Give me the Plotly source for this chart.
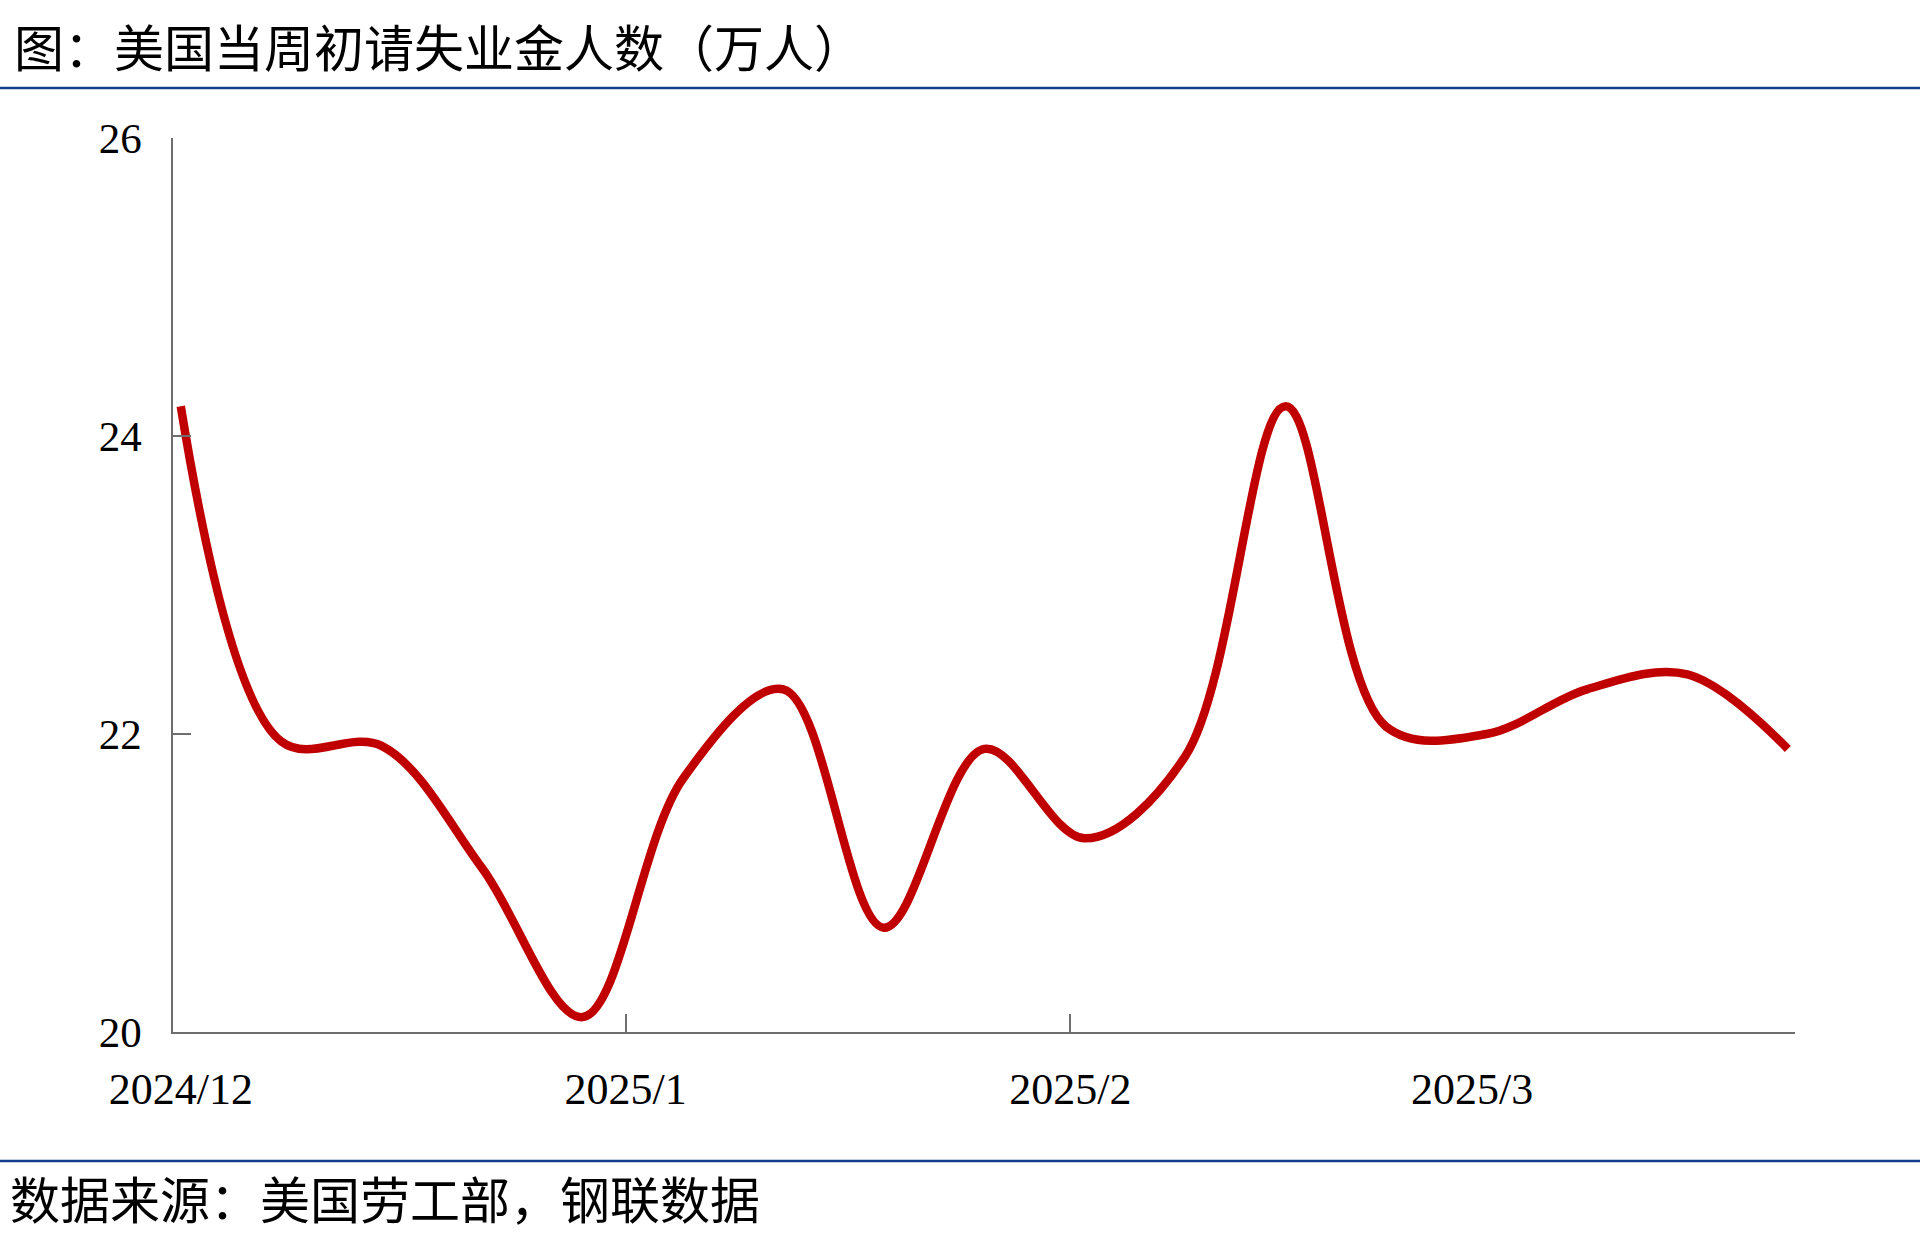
import plotly.graph_objects as go

# ---- data ----
dates = ["2024-12-01", "2024-12-08", "2024-12-15", "2024-12-22", "2024-12-29",
         "2025-01-05", "2025-01-12", "2025-01-19", "2025-01-26", "2025-02-02",
         "2025-02-09", "2025-02-16", "2025-02-23", "2025-03-02", "2025-03-09",
         "2025-03-16", "2025-03-23"]
claims = [24.2, 21.95, 21.92, 21.1, 20.1, 21.7, 22.3, 20.7, 21.9, 21.3,
          21.85, 24.2, 22.05, 22.0, 22.3, 22.4, 21.9]
month_ticks = ["2024-12-01", "2025-01-01", "2025-02-01", "2025-03-01"]
month_labels = ["2024/12", "2025/1", "2025/2", "2025/3"]
minor_ticks = ["2025-01-01", "2025-02-01"]
y_ticks = [20, 22, 24, 26]

title_text = "图：美国当周初请失业金人数（万人）"
source_text = "数据来源：美国劳工部，钢联数据"

# ---- layout geometry (pixels) ----
W, H = 1920, 1252
L, R, T, B = 173, 1795, 138, 1032
pw, ph = R - L, B - T


def px(x):
    return (x - L) / pw


def py(y):
    return (B - y) / ph


fig = go.Figure()
fig.add_trace(go.Scatter(
    x=dates, y=claims, mode="lines",
    line=dict(color="#C00000", width=8.5, shape="spline", smoothing=1.0),
    hoverinfo="skip", showlegend=False,
))

axis_color = "#6E6E6E"
cjk = "Noto Sans CJK SC"
serif = "Liberation Serif"

fig.update_layout(
    width=W, height=H,
    margin=dict(l=L, r=W - R, t=T, b=H - B, pad=0),
    paper_bgcolor="white", plot_bgcolor="white",
    showlegend=False,
    title=dict(text=title_text, xref="container", yref="container",
               x=14 / W, xanchor="left", y=1 - 49 / H, yanchor="middle",
               font=dict(family=cjk, size=50, color="black")),
    xaxis=dict(
        type="date",
        range=["2024-11-30 11:00", "2025-03-23 12:00"],
        tickmode="array", tickvals=month_ticks, ticktext=month_labels,
        ticks="", showgrid=False, zeroline=False,
        showline=True, linecolor=axis_color, linewidth=1.5,
        tickfont=dict(family=serif, size=44, color="black"),
        ticklabelstandoff=17,
        minor=dict(tickmode="array", tickvals=minor_ticks, ticks="inside",
                   ticklen=18, tickcolor=axis_color, tickwidth=1.5, showgrid=False),
    ),
    yaxis=dict(
        range=[20, 26], tickmode="array", tickvals=y_ticks,
        ticks="inside", ticklen=18, tickcolor=axis_color, tickwidth=1.5,
        showgrid=False, zeroline=False,
        showline=True, linecolor=axis_color, linewidth=1.5,
        tickfont=dict(family=serif, size=43, color="black"),
        ticklabelstandoff=21,
    ),
    shapes=[
        dict(type="line", xref="paper", yref="paper",
             x0=px(0), x1=px(W), y0=py(88), y1=py(88),
             line=dict(color="#133C8B", width=2.5)),
        dict(type="line", xref="paper", yref="paper",
             x0=px(0), x1=px(W), y0=py(1161), y1=py(1161),
             line=dict(color="#133C8B", width=2.5)),
    ],
    annotations=[
        dict(text=source_text, xref="paper", yref="paper",
             x=px(8), xanchor="left", y=py(1197), yanchor="middle",
             showarrow=False, font=dict(family=cjk, size=50, color="black")),
    ],
)

fig.write_html("out.html",
               config={"displayModeBar": False},
               post_script="document.body.style.margin='0';document.body.style.overflow='hidden';")
